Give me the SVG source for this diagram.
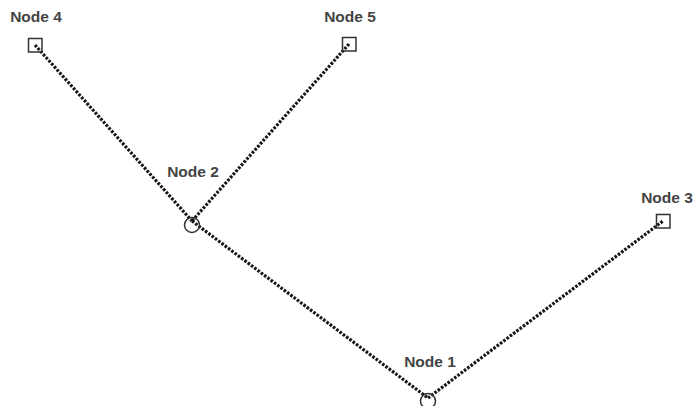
<svg xmlns="http://www.w3.org/2000/svg" width="698" height="406" viewBox="0 0 698 406">
  <style>
    .edge { fill: none; stroke: #151515; stroke-width: 3.2; stroke-dasharray: 2.6 1.5; }
    .mark { fill: none; stroke: #333; stroke-width: 1.5; }
    .label { font-family: "Liberation Sans", Arial, sans-serif; font-size: 15.5px; font-weight: bold; fill: #444; text-anchor: middle; }
  </style>
  <rect width="698" height="406" fill="#fff"/>
  <g id="connectors">
    <line class="edge" x1="35" y1="45" x2="192" y2="221"/>
    <line class="edge" x1="349" y1="44" x2="192" y2="221"/>
    <line class="edge" x1="192" y1="221" x2="428" y2="398"/>
    <line class="edge" x1="428" y1="398" x2="663" y2="221"/>
  </g>
  <g id="node1">
    <circle class="mark" cx="428" cy="401" r="7.5"/>
    <text class="label" x="430" y="367">Node 1</text>
  </g>
  <g id="node2">
    <circle class="mark" cx="192" cy="225" r="7.5"/>
    <text class="label" x="193" y="177">Node 2</text>
  </g>
  <g id="node3">
    <rect class="mark" x="656.5" y="214.5" width="13.5" height="13.5"/>
    <text class="label" x="667" y="203">Node 3</text>
  </g>
  <g id="node4">
    <rect class="mark" x="28.5" y="38.5" width="13.5" height="13.5"/>
    <text class="label" x="36" y="22">Node 4</text>
  </g>
  <g id="node5">
    <rect class="mark" x="342.5" y="37.5" width="13.5" height="13.5"/>
    <text class="label" x="350" y="22">Node 5</text>
  </g>
</svg>
